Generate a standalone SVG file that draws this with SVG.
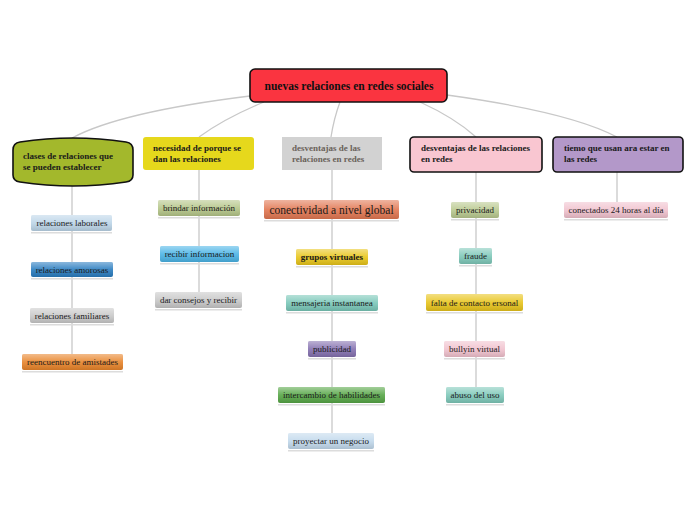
<svg xmlns="http://www.w3.org/2000/svg" width="696" height="520" viewBox="0 0 696 520">
<defs>
<linearGradient id="gloss" x1="0" y1="0" x2="0" y2="1">
<stop offset="0" stop-color="#fff" stop-opacity="0.45"/>
<stop offset="0.5" stop-color="#fff" stop-opacity="0.1"/>
<stop offset="1" stop-color="#000" stop-opacity="0.12"/>
</linearGradient>
</defs>
<style>
.bg{fill:#ffffff}
.con path,.con line{stroke:#c8c8c8;stroke-width:1.3;fill:none}
.t1{font-family:"Liberation Serif",serif;font-weight:bold;font-size:9px;fill:#1a1a1a}
.t2{font-family:"Liberation Serif",serif;font-size:9px;fill:#1a1a1a;text-anchor:middle}
.sh{fill:#dcdcdc}
.gl{fill:url(#gloss)}
.bd{stroke:#111;stroke-width:1.6}
</style>
<rect class="bg" width="696" height="520"/>
<g id="connectors" class="con">
<path d="M250,96 Q120,112 72,138"/>
<path d="M264,102 Q225,118 199,137"/>
<path d="M340,102 Q334,118 331,137"/>
<path d="M420,102 Q455,118 476,137"/>
<path d="M447,95 Q570,112 617,137"/>
<line x1="72" y1="184" x2="72" y2="215"/>
<line x1="72" y1="231" x2="72" y2="262"/>
<line x1="72" y1="277" x2="72" y2="308"/>
<line x1="72" y1="323" x2="72" y2="354"/>
<line x1="199" y1="170" x2="199" y2="200"/>
<line x1="199" y1="216" x2="199" y2="246"/>
<line x1="199" y1="262" x2="199" y2="292"/>
<line x1="332" y1="170" x2="332" y2="200"/>
<line x1="332" y1="219" x2="332" y2="249"/>
<line x1="332" y1="265" x2="332" y2="295"/>
<line x1="332" y1="311" x2="332" y2="341"/>
<line x1="332" y1="357" x2="332" y2="387"/>
<line x1="332" y1="403" x2="332" y2="433"/>
<line x1="476" y1="172" x2="476" y2="202"/>
<line x1="476" y1="218" x2="476" y2="248"/>
<line x1="476" y1="264" x2="476" y2="294"/>
<line x1="476" y1="311" x2="476" y2="341"/>
<line x1="476" y1="357" x2="476" y2="387"/>
<line x1="617" y1="172" x2="617" y2="202"/>
</g>
<g id="root">
<rect x="250" y="69" width="197" height="33" rx="5" fill="#fa3440" class="bd"/>
<text x="349" y="90" text-anchor="middle" style="font-family:'Liberation Serif',serif;font-weight:bold;font-size:11.5px;fill:#111">nuevas relaciones en redes sociales</text>
</g>
<g id="n-clases">
<path d="M13,150 Q13,143 20,142 Q73,134 126,142 Q133,143 133,150 L133,175 Q133,181 126,182 Q73,190 20,182 Q13,181 13,175 Z" fill="#a3b82c" class="bd"/>
<text class="t1" x="23" y="159">clases de relaciones que</text>
<text class="t1" x="23" y="170">se pueden establecer</text>
</g>
<g id="n-necesidad">
<rect x="143" y="137" width="111" height="33" rx="3" fill="#e6d81c"/>
<text class="t1" x="153" y="151">necesidad de porque se</text>
<text class="t1" x="153" y="162">dan las relaciones</text>
</g>
<g id="n-desv-gris">
<rect x="282" y="137" width="100" height="33" fill="#d2d2d2"/>
<text class="t1" x="292" y="151" style="fill:#6a625a">desventajas de las</text>
<text class="t1" x="292" y="162" style="fill:#6a625a">relaciones en redes</text>
</g>
<g id="n-desv-rosa">
<rect x="410" y="137" width="132" height="35" rx="4" fill="#f9c6d1" class="bd"/>
<text class="t1" x="421" y="151">desventajas de las relaciones</text>
<text class="t1" x="421" y="162">en redes</text>
</g>
<g id="n-tiemo">
<rect x="553" y="137" width="130" height="35" rx="4" fill="#b398c9" class="bd"/>
<text class="t1" x="564" y="151">tiemo que usan ara estar en</text>
<text class="t1" x="564" y="162">las redes</text>
</g>

<g id="n-laborales"><rect class="sh" x="31" y="232" width="81" height="1.5"/><rect x="31" y="215" width="81" height="16" rx="2" fill="#bcd5e8"/><rect class="gl" x="31" y="215" width="81" height="16" rx="2"/><text class="t2" x="72" y="226">relaciones laborales</text></g>
<g id="n-amorosas"><rect class="sh" x="31" y="278" width="82" height="1.5"/><rect x="31" y="262" width="82" height="15" rx="2" fill="#2a7dc0"/><rect class="gl" x="31" y="262" width="82" height="15" rx="2"/><text class="t2" x="72" y="272.5">relaciones amorosas</text></g>
<g id="n-familiares"><rect class="sh" x="30" y="324" width="84" height="1.5"/><rect x="30" y="308" width="84" height="15" rx="2" fill="#c9c9c9"/><rect class="gl" x="30" y="308" width="84" height="15" rx="2"/><text class="t2" x="72" y="318.5">relaciones familiares</text></g>
<g id="n-reencuentro"><rect class="sh" x="22" y="371" width="101" height="1.5"/><rect x="22" y="354" width="101" height="16" rx="2" fill="#e8842a"/><rect class="gl" x="22" y="354" width="101" height="16" rx="2"/><text class="t2" x="72.5" y="365">reencuentro de amistades</text></g>

<g id="n-brindar"><rect class="sh" x="158" y="217" width="82" height="1.5"/><rect x="158" y="200" width="82" height="16" rx="2" fill="#b5c689"/><rect class="gl" x="158" y="200" width="82" height="16" rx="2"/><text class="t2" x="199" y="211">brindar información</text></g>
<g id="n-recibir"><rect class="sh" x="160" y="263" width="79" height="1.5"/><rect x="160" y="246" width="79" height="16" rx="2" fill="#4bb4e6"/><rect class="gl" x="160" y="246" width="79" height="16" rx="2"/><text class="t2" x="199.5" y="257">recibir informacion</text></g>
<g id="n-consejos"><rect class="sh" x="155" y="309" width="87" height="1.5"/><rect x="155" y="292" width="87" height="16" rx="2" fill="#c8c8c8"/><rect class="gl" x="155" y="292" width="87" height="16" rx="2"/><text class="t2" x="198.5" y="303">dar consejos y recibir</text></g>

<g id="n-conectividad"><rect class="sh" x="264" y="220" width="135" height="1.5"/><rect x="264" y="200" width="135" height="19" rx="2" fill="#e27752"/><rect class="gl" x="264" y="200" width="135" height="19" rx="2"/><text class="t2" x="331.5" y="213.5" style="font-size:11.5px">conectividad a nivel global</text></g>
<g id="n-grupos"><rect class="sh" x="296" y="266" width="72" height="1.5"/><rect x="296" y="249" width="72" height="16" rx="2" fill="#e8c51a"/><rect class="gl" x="296" y="249" width="72" height="16" rx="2"/><text class="t2" x="332" y="260" style="font-weight:bold">grupos virtuales</text></g>
<g id="n-mensajeria"><rect class="sh" x="286" y="312" width="92" height="1.5"/><rect x="286" y="295" width="92" height="16" rx="2" fill="#79c7b8"/><rect class="gl" x="286" y="295" width="92" height="16" rx="2"/><text class="t2" x="332" y="306">mensajeria instantanea</text></g>
<g id="n-publicidad"><rect class="sh" x="308" y="358" width="48" height="1.5"/><rect x="308" y="341" width="48" height="16" rx="2" fill="#8571b0"/><rect class="gl" x="308" y="341" width="48" height="16" rx="2"/><text class="t2" x="332" y="352">publicidad</text></g>
<g id="n-intercambio"><rect class="sh" x="278" y="404" width="107" height="1.5"/><rect x="278" y="387" width="107" height="16" rx="2" fill="#56a646"/><rect class="gl" x="278" y="387" width="107" height="16" rx="2"/><text class="t2" x="331.5" y="398">intercambio de habilidades</text></g>
<g id="n-proyectar"><rect class="sh" x="288" y="450" width="86" height="1.5"/><rect x="288" y="433" width="86" height="16" rx="2" fill="#c2d9ec"/><rect class="gl" x="288" y="433" width="86" height="16" rx="2"/><text class="t2" x="331" y="444">proyectar un negocio</text></g>

<g id="n-privacidad"><rect class="sh" x="451" y="219" width="48" height="1.5"/><rect x="451" y="202" width="48" height="16" rx="2" fill="#b9c98f"/><rect class="gl" x="451" y="202" width="48" height="16" rx="2"/><text class="t2" x="475" y="213">privacidad</text></g>
<g id="n-fraude"><rect class="sh" x="459" y="265" width="33" height="1.5"/><rect x="459" y="248" width="33" height="16" rx="2" fill="#7ec8b9"/><rect class="gl" x="459" y="248" width="33" height="16" rx="2"/><text class="t2" x="475.5" y="259">fraude</text></g>
<g id="n-falta"><rect class="sh" x="426" y="312" width="97" height="1.5"/><rect x="426" y="294" width="97" height="17" rx="2" fill="#e8c41c"/><rect class="gl" x="426" y="294" width="97" height="17" rx="2"/><text class="t2" x="474.5" y="305.5">falta de contacto ersonal</text></g>
<g id="n-bullyin"><rect class="sh" x="444" y="358" width="61" height="1.5"/><rect x="444" y="341" width="61" height="16" rx="2" fill="#f1c2ce"/><rect class="gl" x="444" y="341" width="61" height="16" rx="2"/><text class="t2" x="474.5" y="352">bullyin virtual</text></g>
<g id="n-abuso"><rect class="sh" x="446" y="404" width="58" height="1.5"/><rect x="446" y="387" width="58" height="16" rx="2" fill="#7ec8b9"/><rect class="gl" x="446" y="387" width="58" height="16" rx="2"/><text class="t2" x="475" y="398">abuso del uso</text></g>

<g id="n-conectados"><rect class="sh" x="564" y="219" width="104" height="1.5"/><rect x="564" y="202" width="104" height="16" rx="2" fill="#f1c2ce"/><rect class="gl" x="564" y="202" width="104" height="16" rx="2"/><text class="t2" x="616" y="213">conectados 24 horas al día</text></g>
</svg>
